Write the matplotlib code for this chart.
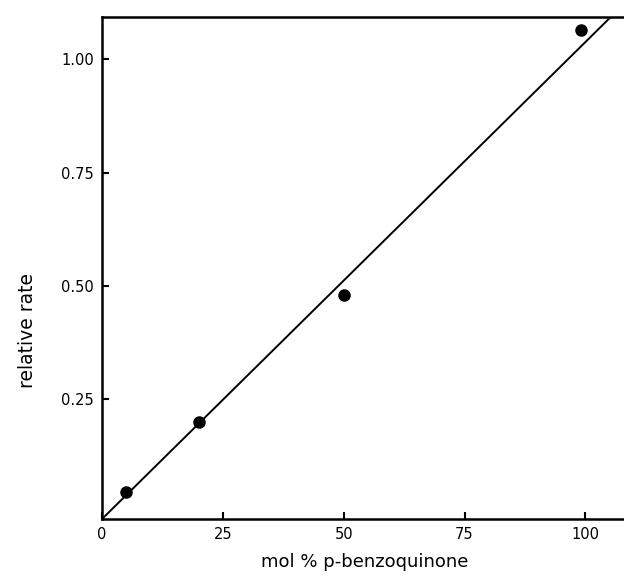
import matplotlib
matplotlib.use("Agg")
import matplotlib.pyplot as plt

# measured points
mol_pct = [5, 20, 50, 99]
rel_rate = [0.044, 0.200, 0.479, 1.064]

# straight line drawn through the data
fit_x = [0, 105.2]
fit_y = [-0.015, 1.093]

x_ticks = [0, 25, 50, 75, 100]
y_ticks = [0.25, 0.50, 0.75, 1.00]
y_tick_labels = ["0.25", "0.50", "0.75", "1.00"]

fig = plt.figure(figsize=(6.24, 5.77), dpi=100)
ax = fig.add_axes([0.1635, 0.1005, 0.8365, 0.8695])

ax.plot(fit_x, fit_y, color="black", lw=1.4)
ax.plot(mol_pct, rel_rate, "o", color="black", markersize=8)

ax.set_xlim(0, 108)
ax.set_ylim(-0.015, 1.093)

ax.set_xticks(x_ticks)
ax.set_xticklabels([str(t) for t in x_ticks])
ax.set_yticks(y_ticks)
ax.set_yticklabels(y_tick_labels)
ax.tick_params(direction="in", length=5, width=1.5, labelsize=10.5, pad=6)

for side in ["left", "bottom", "top"]:
    ax.spines[side].set_linewidth(1.8)
ax.spines["right"].set_visible(False)

ax.set_xlabel("mol % p-benzoquinone", fontsize=13)
ax.xaxis.set_label_coords(0.504, -0.068)
ax.set_ylabel("relative rate", fontsize=13.5)
ax.yaxis.set_label_coords(-0.125, 0.376)

fig.savefig("out.png", dpi=100)
